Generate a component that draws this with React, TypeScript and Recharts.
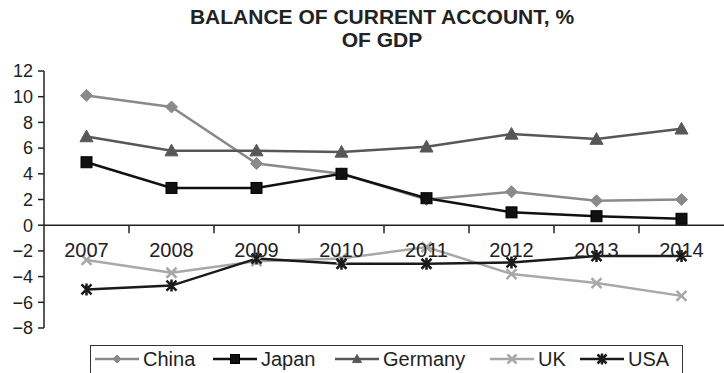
import React from 'react';
import { LineChart, Line, XAxis, YAxis, ReferenceLine } from 'recharts';

const years = ['2007', '2008', '2009', '2010', '2011', '2012', '2013', '2014'];
const china = [10.1, 9.2, 4.8, 4.0, 2.0, 2.6, 1.9, 2.0];
const japan = [4.9, 2.9, 2.9, 4.0, 2.1, 1.0, 0.7, 0.5];
const germany = [6.9, 5.8, 5.8, 5.7, 6.1, 7.1, 6.7, 7.5];
const uk = [-2.7, -3.7, -2.8, -2.6, -1.7, -3.8, -4.5, -5.5];
const usa = [-5.0, -4.7, -2.6, -3.0, -3.0, -2.9, -2.4, -2.4];
const yTicks = [-8, -6, -4, -2, 0, 2, 4, 6, 8, 10, 12];

const W = 724;
const H = 373;
const Y_AXIS_W = 44;
const TOP = 71;
const BOTTOM = 328;
const FONT = '"Liberation Sans", Arial, Helvetica, sans-serif';

const band = (W - Y_AXIS_W) / years.length;
const zeroY = TOP + (12 / 20) * (BOTTOM - TOP);

const chartData = years.map((y, i) => ({
  year: y,
  China: china[i],
  Japan: japan[i],
  Germany: germany[i],
  UK: uk[i],
  USA: usa[i],
}));

const Diamond = ({ cx, cy, s = 6, fill }: any) => (
  <path d={`M${cx},${cy - s} L${cx + s},${cy} L${cx},${cy + s} L${cx - s},${cy} Z`} fill={fill} stroke={fill} />
);
const Square = ({ cx, cy, s = 5.5, fill }: any) => (
  <rect x={cx - s} y={cy - s} width={s * 2} height={s * 2} fill={fill} stroke="#000" strokeWidth={1} />
);
const Triangle = ({ cx, cy, s = 6.5, fill }: any) => (
  <path d={`M${cx},${cy - s} L${cx + s},${cy + s * 0.8} L${cx - s},${cy + s * 0.8} Z`} fill={fill} stroke={fill} />
);
const Cross = ({ cx, cy, s = 5, fill }: any) => (
  <path d={`M${cx - s},${cy - s} L${cx + s},${cy + s} M${cx - s},${cy + s} L${cx + s},${cy - s}`} stroke={fill} strokeWidth={2.5} fill="none" />
);
const Star = ({ cx, cy, s = 5, fill }: any) => (
  <path
    d={`M${cx - s},${cy - s} L${cx + s},${cy + s} M${cx - s},${cy + s} L${cx + s},${cy - s} M${cx},${cy - s - 1} L${cx},${cy + s + 1}`}
    stroke={fill}
    strokeWidth={2.5}
    fill="none"
  />
);

const series = [
  { key: 'China', color: '#8a8a8a', Marker: Diamond },
  { key: 'Japan', color: '#111111', Marker: Square },
  { key: 'Germany', color: '#575757', Marker: Triangle },
  { key: 'UK', color: '#a8a8a8', Marker: Cross },
  { key: 'USA', color: '#1a1a1a', Marker: Star },
];

const YearTick = (props: any) => {
  const { x, payload, index } = props;
  return (
    <g>
      <text x={x} y={zeroY + 32} textAnchor="middle" fontSize={20} fill="#222" fontFamily={FONT}>
        {payload.value}
      </text>
      {index < years.length - 1 && (
        <line x1={x + band / 2} x2={x + band / 2} y1={zeroY} y2={zeroY + 8} stroke="#222" strokeWidth={1.5} />
      )}
    </g>
  );
};

const legendX = [95, 213, 335, 490, 580];

export default function App() {
  return (
    <div style={{ position: 'absolute', left: 0, top: 0, width: W, height: H, background: '#fff', overflow: 'hidden', fontFamily: FONT }}>
      <div
        style={{
          position: 'absolute',
          left: Y_AXIS_W,
          width: W - Y_AXIS_W - 4,
          top: 5,
          textAlign: 'center',
          fontWeight: 'bold',
          fontSize: 21,
          lineHeight: '23px',
          color: '#222',
        }}
      >
        BALANCE OF CURRENT ACCOUNT, %<br />OF GDP
      </div>
      <LineChart width={W} height={H} data={chartData} margin={{ top: TOP, right: 0, bottom: H - BOTTOM - 20, left: 0 }}>
        <YAxis
          width={Y_AXIS_W}
          domain={[-8, 12]}
          ticks={yTicks}
          interval={0}
          tickSize={6}
          tickMargin={5}
          axisLine={{ stroke: '#222', strokeWidth: 1.5 }}
          tickLine={{ stroke: '#222', strokeWidth: 1.5 }}
          tick={{ fill: '#222', fontSize: 18, fontFamily: FONT }}
          tickFormatter={(v: number) => (v < 0 ? `\u2212${Math.abs(v)}` : `${v}`)}
        />
        <XAxis
          dataKey="year"
          height={20}
          axisLine={false}
          tickLine={false}
          interval={0}
          padding={{ left: band / 2, right: band / 2 }}
          tick={<YearTick />}
        />
        <ReferenceLine y={0} stroke="#222" strokeWidth={1.5} />
        {series.map(({ key, color, Marker }) => (
          <Line
            key={key}
            dataKey={key}
            type="linear"
            stroke={color}
            strokeWidth={2.5}
            isAnimationActive={false}
            dot={(p: any) => <Marker key={`${key}-${p.index}`} cx={p.cx} cy={p.cy} fill={color} />}
            activeDot={false}
          />
        ))}
      </LineChart>
      <div
        style={{
          position: 'absolute',
          left: 90,
          top: 345,
          width: 593,
          height: 40,
          border: '1.5px solid #333',
          boxSizing: 'border-box',
        }}
      />
      <svg width={W} height={H} style={{ position: 'absolute', left: 0, top: 0 }}>
        {series.map(({ key, color, Marker }, i) => (
          <g key={key}>
            <line x1={legendX[i]} x2={legendX[i] + 44} y1={359} y2={359} stroke={color} strokeWidth={2.5} />
            <Marker cx={legendX[i] + 22} cy={359} s={key === 'China' ? 4 : 4.5} fill={color} />
            <text x={legendX[i] + 48} y={366} fontSize={20} fill="#222" fontFamily={FONT}>
              {key}
            </text>
          </g>
        ))}
      </svg>
    </div>
  );
}
